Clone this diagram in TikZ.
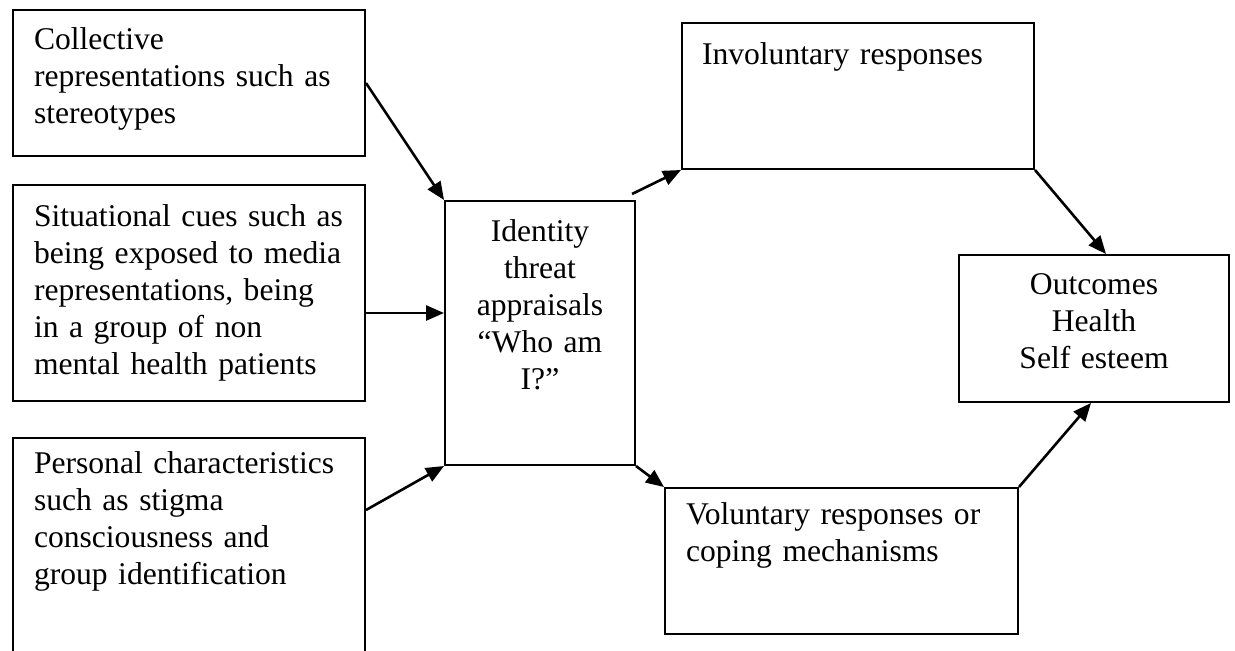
\documentclass[tikz,border=0pt]{standalone}
\usepackage{fontspec}
\setmainfont{Liberation Serif}
\usetikzlibrary{arrows.meta}

\begin{document}
\begin{tikzpicture}[x=0.5pt, y=-0.5pt,
    box/.style={draw, line width=1pt, anchor=north west, inner ysep=0pt, inner xsep=0pt,
        font=\fontsize{15.8}{18.5}\selectfont},
    leftbox/.style={box, align=left, execute at begin node={\leftskip=10.5pt\relax}},
    midbox/.style={box, align=center},
    >={Triangle[length=9pt, width=7.5pt]},
    arr/.style={->, line width=1.3pt}]

    % Page
    \fill[white] (0,0) rectangle (1235,650);
    \useasboundingbox (0,0) rectangle (1235,650);

    % Left column
    \node[leftbox, text width=176pt, text height=19.5pt, text depth=53.5pt] (coll) at (12,9)
        {Collective\\representations such as\\stereotypes};
    \node[leftbox, text width=176pt, text height=20.5pt, text depth=87.5pt] (situ) at (12,184)
        {Situational cues such as\\being exposed to media\\representations, being\\in a group of non\\mental health patients};
    \node[leftbox, text width=176pt, text height=17.5pt, text depth=97pt] (pers) at (12,437)
        {Personal characteristics\\such as stigma\\consciousness and\\group identification};

    % Middle
    \node[midbox, text width=95pt, text height=20pt, text depth=112pt] (ident) at (444,200)
        {Identity\\threat\\appraisals\\“Who am\\I?”};

    % Right column
    \node[leftbox, execute at begin node={\leftskip=10pt\relax}, text width=176pt,
        text height=20.5pt, text depth=52.5pt] (invol) at (681,22)
        {Involuntary responses};
    \node[leftbox, text width=176.5pt, text height=18pt, text depth=55pt] (volun) at (664,487)
        {Voluntary responses or\\coping mechanisms};
    \node[midbox, text width=135pt, text height=19.5pt, text depth=54pt] (outc) at (958,254)
        {Outcomes\\Health\\Self esteem};

    % Arrows into the appraisal box
    \draw[arr] (coll.east) -- (ident.north west);
    \coordinate (sit-out) at ([yshift=-10pt]situ.east);
    \draw[arr] (sit-out) -- (sit-out -| ident.west);
    \draw[arr] ([yshift=-36.5pt]pers.north east) -- (ident.south west);

    % Responses and outcomes
    \draw[arr] ([shift={(-2pt,3pt)}]ident.north east) -- (invol.south west);
    \draw[arr] (ident.south east) -- (volun.north west);
    \draw[arr] (invol.south east) -- ([xshift=6pt]outc.north);
    \draw[arr] (volun.north east) -- ([xshift=-1.5pt]outc.south);

\end{tikzpicture}
\end{document}
